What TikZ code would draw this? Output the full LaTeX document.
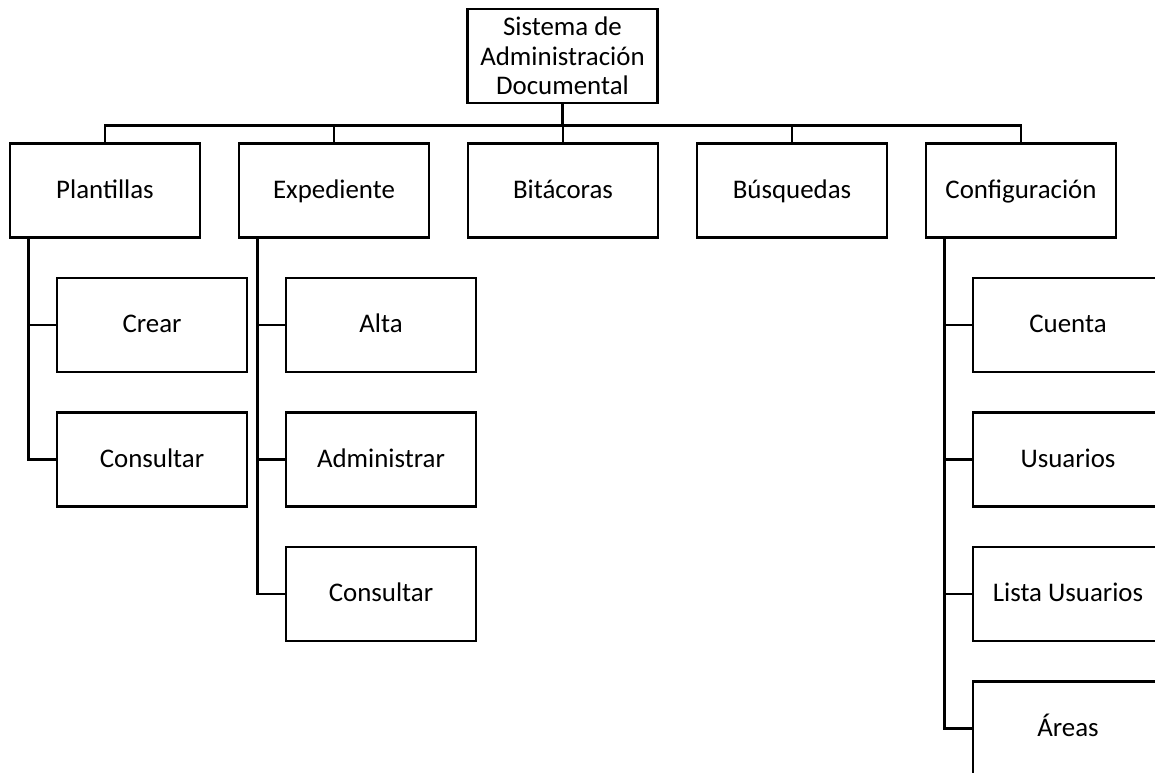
\documentclass[tikz,border=0pt]{standalone}
\usepackage{fontspec}
\setmainfont{Carlito}
\usetikzlibrary{positioning}

\begin{document}
\begin{tikzpicture}[node distance=2.69cm,on grid,
	tbox/.style={draw,line width=1.6pt,minimum width=3.8cm,minimum height=1.88cm,align=center,
		font=\fontsize{15.3}{16.8}\selectfont},
	box/.style={tbox,text height=2.3ex,text depth=0.45ex},
	link/.style={line width=1.6pt}]
	\useasboundingbox (0,0) rectangle (23.1,-15.44);
	\node[tbox] (root) at (11.25,-1.12) {Sistema de \\ Administración \\ Documental};
	\node[box] (plant) at (2.1,-3.81) {Plantillas};
	\node[box] (exped) [right=4.58cm of plant] {Expediente};
	\node[box] (bitac) [right=4.58cm of exped] {Bitácoras};
	\node[box] (busq) [right=4.58cm of bitac] {Búsquedas};
	\node[box] (config) [right=4.58cm of busq] {Configuración};
	% hijos
	\node[box] (crear) [below right=2.69cm and 0.94cm of plant] {Crear};
	\node[box] (consP) [below=of crear] {Consultar};
	\node[box] (alta) [below right=2.69cm and 0.94cm of exped] {Alta};
	\node[box] (admin) [below=of alta] {Administrar};
	\node[box] (consE) [below=of admin] {Consultar};
	\node[box] (cuenta) [below right=2.69cm and 0.94cm of config] {Cuenta};
	\node[box] (usr) [below=of cuenta] {Usuarios};
	\node[box] (lista) [below=of usr] {Lista Usuarios};
	\node[box] (areas) [below=of lista] {Áreas};
	\foreach \n in {plant,exped,bitac,busq,config}
		\draw[link] (root.south) -- ++(0,-0.42) -| (\n.north);
	\foreach \p/\c in {plant/crear,plant/consP,exped/alta,exped/admin,exped/consE,
		config/cuenta,config/usr,config/lista,config/areas}
		\draw[link] ([xshift=0.4cm]\p.south west) |- (\c.west);
\end{tikzpicture}
\end{document}
